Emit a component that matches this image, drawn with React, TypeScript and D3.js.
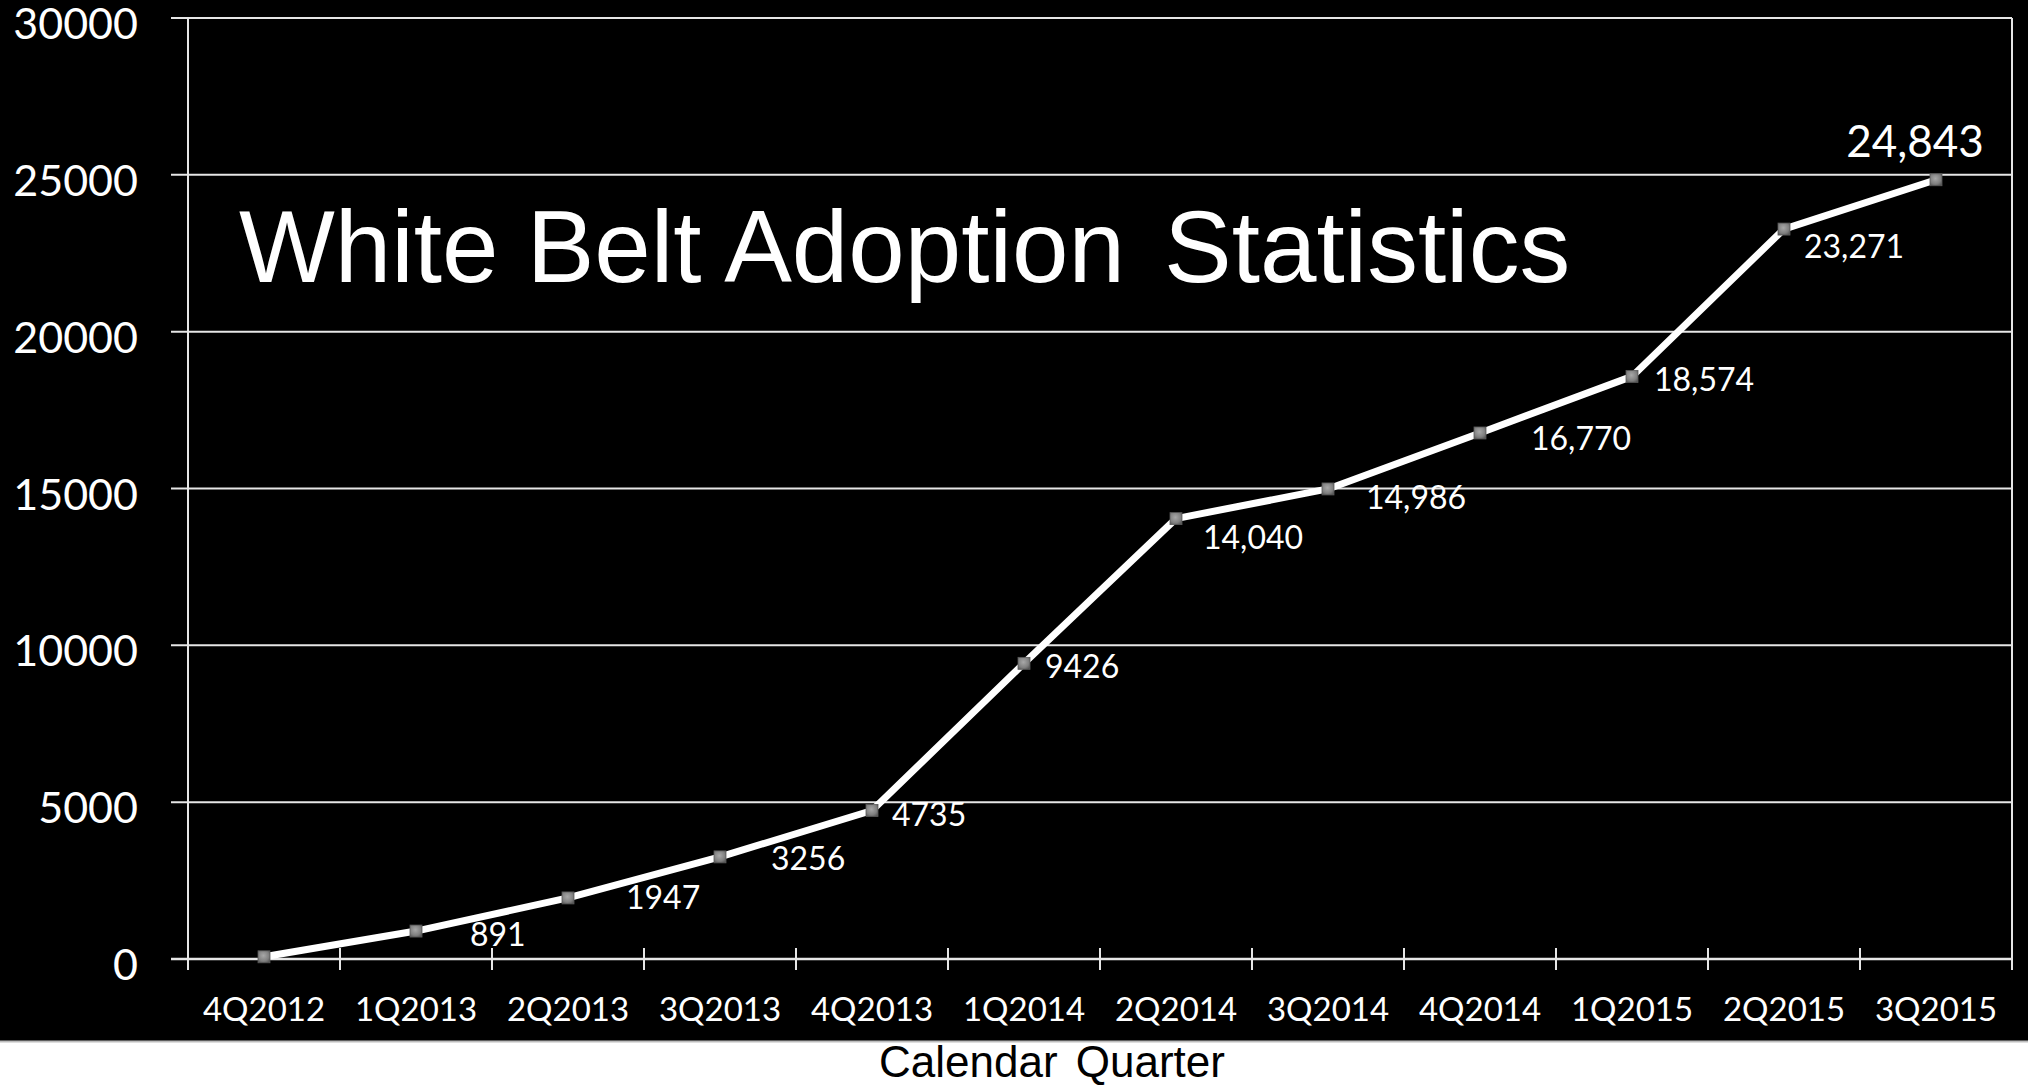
import React from "react";
import * as d3 from "d3";

// Quarterly cumulative adoption counts
const quarters = [
  "4Q2012", "1Q2013", "2Q2013", "3Q2013", "4Q2013", "1Q2014",
  "2Q2014", "3Q2014", "4Q2014", "1Q2015", "2Q2015", "3Q2015",
];
const adopters = [70, 891, 1947, 3256, 4735, 9426, 14040, 14986, 16770, 18574, 23271, 24843];
// Text shown beside each point (first point is unlabeled)
const pointLabels = ["", "891", "1947", "3256", "4735", "9426", "14,040", "14,986", "16,770", "18,574", "23,271", "24,843"];
const yTicks = [0, 5000, 10000, 15000, 20000, 25000, 30000];

// Label placement relative to each marker: [dx to text start, dy to text middle]
const labelOffsets: [number, number][] = [
  [0, 0], [54, 3], [58, 0], [51, 2], [20, 4], [21, 3],
  [27, 19], [38, 9], [51, 5], [22, 3], [20, 17], [-21, -39],
];

const W = 2028;
const H = 1085;
const plot = { left: 188, right: 2012, top: 18, bottom: 959 };

export default function App() {
  const x = d3.scaleBand<string>().domain(quarters).range([plot.left, plot.right]).padding(0);
  const y = d3.scaleLinear().domain([0, 30000]).range([plot.bottom, plot.top]);
  const cx = (q: string) => (x(q) as number) + x.bandwidth() / 2;

  const line = d3
    .line<number>()
    .x((_, i) => cx(quarters[i]))
    .y((v) => y(v));

  const boundaries = d3.range(quarters.length + 1).map((i) => plot.left + i * x.bandwidth());
  const numFont = "Lato, 'Open Sans', sans-serif";
  const sansFont = "'Liberation Sans', Arial, sans-serif";
  const last = adopters.length - 1;
  const m = 12;

  return (
    <svg
      width={W}
      height={H}
      style={{ position: "absolute", left: 0, top: 0, display: "block" }}
    >
      <defs>
        <radialGradient id="markerFill" cx="45%" cy="40%" r="70%">
          <stop offset="0%" stopColor="#a8a8a8" />
          <stop offset="65%" stopColor="#808080" />
          <stop offset="100%" stopColor="#555555" />
        </radialGradient>
      </defs>

      {/* background */}
      <rect x={0} y={0} width={W} height={H} fill="#ffffff" />
      <rect x={0} y={0} width={W} height={1041} fill="#000000" />
      <line x1={0} x2={W} y1={1041.5} y2={1041.5} stroke="#bdbdbd" strokeWidth={2} />

      {/* horizontal gridlines with left ticks */}
      {yTicks.map((t) => (
        <line
          key={`g${t}`}
          x1={plot.left - 17}
          x2={plot.right}
          y1={y(t)}
          y2={y(t)}
          stroke="#e6e6e6"
          strokeWidth={t === 0 ? 2.5 : 2}
        />
      ))}

      {/* y axis and right border */}
      <line x1={plot.left} x2={plot.left} y1={plot.top} y2={plot.bottom + 11} stroke="#e6e6e6" strokeWidth={2} />
      <line x1={plot.right} x2={plot.right} y1={plot.top} y2={plot.bottom + 11} stroke="#e6e6e6" strokeWidth={2} />

      {/* category boundary ticks */}
      {boundaries.map((bx, i) => (
        <line key={`t${i}`} x1={bx} x2={bx} y1={plot.bottom - 11} y2={plot.bottom + 11} stroke="#e6e6e6" strokeWidth={2} />
      ))}

      {/* y tick labels */}
      {yTicks.map((t) => (
        <text
          key={`yl${t}`}
          x={138}
          y={y(t) + 21}
          textAnchor="end"
          fill="#ffffff"
          fontFamily={numFont}
          fontSize={43}
        >
          {t}
        </text>
      ))}

      {/* x tick labels */}
      {quarters.map((q) => (
        <text
          key={`xl${q}`}
          x={cx(q)}
          y={1021}
          textAnchor="middle"
          fill="#ffffff"
          fontFamily={numFont}
          fontSize={33}
        >
          {q}
        </text>
      ))}

      {/* title */}
      <text x={239} y={282} fill="#ffffff" fontFamily={sansFont} fontSize={101.5}>
        White Belt Adoption
        <tspan dx={11}> Statistics</tspan>
      </text>

      {/* series line */}
      <path d={line(adopters) ?? ""} fill="none" stroke="#ffffff" strokeWidth={7} strokeLinejoin="round" />

      {/* markers */}
      {adopters.map((v, i) => (
        <rect
          key={`m${i}`}
          x={cx(quarters[i]) - m / 2}
          y={y(v) - m / 2}
          width={m}
          height={m}
          fill="url(#markerFill)"
          stroke="#5a5a5a"
          strokeWidth={0.8}
        />
      ))}

      {/* value labels */}
      {adopters.map((v, i) => {
        const label = pointLabels[i];
        if (!label) return null;
        const [dx, dy] = labelOffsets[i];
        const isLast = i === last;
        const size = isLast ? 44 : 32;
        return (
          <text
            key={`vl${i}`}
            x={cx(quarters[i]) + dx}
            y={y(v) + dy + size * 0.36}
            textAnchor={isLast ? "middle" : "start"}
            fill="#ffffff"
            fontFamily={numFont}
            fontSize={size}
          >
            {label}
          </text>
        );
      })}

      {/* x axis title */}
      <text x={1052} y={1077} textAnchor="middle" fill="#000000" fontFamily={sansFont} fontSize={44}>
        Calendar
        <tspan dx={6}> Quarter</tspan>
      </text>
    </svg>
  );
}
